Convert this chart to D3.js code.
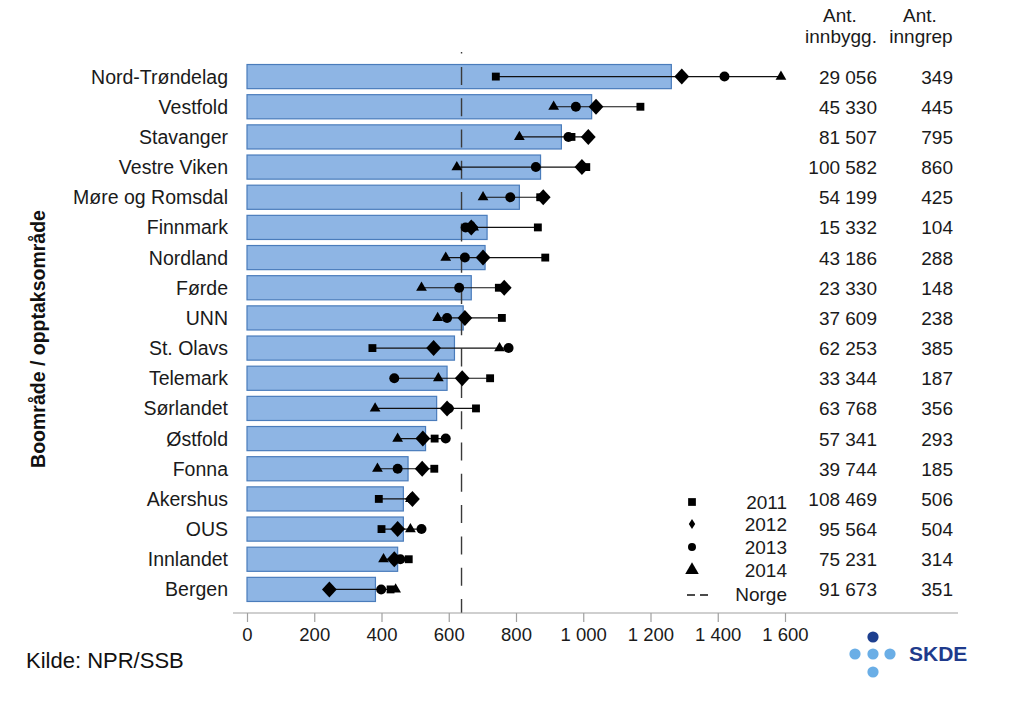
<!DOCTYPE html>
<html>
<head>
<meta charset="utf-8">
<script src="https://cdn.jsdelivr.net/npm/d3@7"></script>
<style>
  html, body { margin: 0; padding: 0; background: #fff; }
  svg { display: block; font-family: "Liberation Sans", Arial, sans-serif; }
</style>
</head>
<body>
<svg id="chart" width="1024" height="703"></svg>
<script>
// ---- data ----
const categories = ["Nord-Trøndelag","Vestfold","Stavanger","Vestre Viken","Møre og Romsdal","Finnmark","Nordland","Førde","UNN","St. Olavs","Telemark","Sørlandet","Østfold","Fonna","Akershus","OUS","Innlandet","Bergen"];
const average = [1262,1025,935,873,810,714,708,667,643,617,595,564,531,479,465,465,448,382];
const y2011 = [740,1170,965,1009,872,865,887,749,758,373,723,681,558,557,392,400,481,427];
const y2012 = [1293,1038,1015,996,881,667,702,765,648,555,640,595,523,521,492,448,438,245];
const y2013 = [1420,978,956,859,783,650,648,631,595,778,438,600,591,448,490,519,456,399];
const y2014 = [1588,912,810,624,702,674,591,519,567,751,569,381,448,388,486,486,406,442];
const innbyggere = [29056,45330,81507,100582,54199,15332,43186,23330,37609,62253,33344,63768,57341,39744,108469,95564,75231,91673];
const inngrep = [349,445,795,860,425,104,288,148,238,385,187,356,293,185,506,504,314,351];
const norge = 638;
const xTicks = [0,200,400,600,800,1000,1200,1400,1600];
const legendLabels = ["2011","2012","2013","2014","Norge"];

// ---- setup ----
const locale = d3.formatLocale({decimal: ",", thousands: " ", grouping: [3], currency: ["", ""]});
const fmt = locale.format(",d");
const svg = d3.select("#chart");
const font = '"Liberation Sans", Arial, sans-serif';

const x = d3.scaleLinear().domain([0, 1600]).range([247, 785]);
const y = d3.scaleBand().domain(categories).range([61.5, 604.5]).paddingInner(0.2).paddingOuter(0.1);
const cy = c => y(c) + y.bandwidth() / 2;

const rows = categories.map((c, i) => ({
  cat: c, avg: average[i], vals: [y2011[i], y2012[i], y2013[i], y2014[i]],
  inn: innbyggere[i], ing: inngrep[i]
}));

// ---- bars ----
svg.append("g").selectAll("rect").data(rows).join("rect")
  .attr("x", x(0))
  .attr("y", d => y(d.cat))
  .attr("width", d => x(d.avg) - x(0))
  .attr("height", y.bandwidth())
  .attr("fill", "#8eb5e4")
  .attr("stroke", "#4a7cbb")
  .attr("stroke-width", 1.2);

// ---- Norge dashed line ----
svg.append("line")
  .attr("x1", x(norge)).attr("x2", x(norge))
  .attr("y1", 52).attr("y2", 613)
  .attr("stroke", "#3a3a3a").attr("stroke-width", 1.4)
  .attr("stroke-dasharray", "18,13.3")
  .attr("stroke-dashoffset", 16.4);

// ---- range lines ----
svg.append("g").selectAll("line").data(rows).join("line")
  .attr("x1", d => x(d3.min(d.vals)))
  .attr("x2", d => x(d3.max(d.vals)))
  .attr("y1", d => cy(d.cat)).attr("y2", d => cy(d.cat))
  .attr("stroke", "#111").attr("stroke-width", 1.1);

// ---- markers ----
const shapes = [
  d3.symbol().type(d3.symbolSquare).size(62)(),
  "M0,-8L7.4,0L0,8L-7.4,0Z",
  d3.symbol().type(d3.symbolCircle).size(78)(),
  d3.symbol().type(d3.symbolTriangle).size(50)()
];
const drawOrder = [0, 2, 3, 1];
drawOrder.forEach(s => {
  svg.append("g").selectAll("path").data(rows).join("path")
    .attr("d", shapes[s])
    .attr("transform", d => `translate(${x(d.vals[s])},${cy(d.cat)})`)
    .attr("fill", "#000");
});

// ---- category labels ----
svg.append("g").selectAll("text").data(rows).join("text")
  .attr("x", 228)
  .attr("y", d => cy(d.cat) + 7)
  .attr("text-anchor", "end")
  .attr("font-size", 19.5)
  .attr("fill", "#1a1a1a")
  .text(d => d.cat);

// ---- right columns ----
const colText = (xx, yy, t, anchor) => svg.append("text")
  .attr("x", xx).attr("y", yy).attr("text-anchor", anchor)
  .attr("font-size", 19).attr("fill", "#1a1a1a").text(t);
colText(840, 22, "Ant.", "middle");
colText(841, 43, "innbygg.", "middle");
colText(920, 22, "Ant.", "middle");
colText(921, 43, "inngrep", "middle");

svg.append("g").selectAll("text").data(rows).join("text")
  .attr("x", 877).attr("y", d => cy(d.cat) + 7)
  .attr("text-anchor", "end").attr("font-size", 19).attr("fill", "#1a1a1a")
  .text(d => fmt(d.inn));
svg.append("g").selectAll("text").data(rows).join("text")
  .attr("x", 953).attr("y", d => cy(d.cat) + 7)
  .attr("text-anchor", "end").attr("font-size", 19).attr("fill", "#1a1a1a")
  .text(d => fmt(d.ing));

// ---- x axis ----
const axisY = 613;
svg.append("line").attr("x1", 233).attr("x2", 958).attr("y1", axisY).attr("y2", axisY)
  .attr("stroke", "#a0a0a0").attr("stroke-width", 1.2);
const ax = svg.append("g").attr("transform", `translate(0,${axisY})`)
  .call(d3.axisBottom(x).tickValues(xTicks).tickSize(9).tickPadding(6).tickFormat(d => fmt(d)));
ax.select(".domain").remove();
ax.selectAll(".tick line").attr("stroke", "#a0a0a0").attr("stroke-width", 1.2);
ax.selectAll(".tick text").attr("font-size", 18.5).attr("font-family", font).attr("fill", "#1a1a1a");

// ---- y axis title ----
svg.append("text")
  .attr("transform", "translate(45,339) rotate(-90)")
  .attr("text-anchor", "middle")
  .attr("font-size", 19.5).attr("font-weight", "bold").attr("fill", "#111")
  .text("Boområde / opptaksområde");

// ---- legend ----
const legY = [502, 524, 547, 570, 594];
const leg = svg.append("g");
const legShapes = [
  d3.symbol().type(d3.symbolSquare).size(60)(),
  "M0,-5L3.2,0L0,5L-3.2,0Z",
  d3.symbol().type(d3.symbolCircle).size(50)(),
  d3.symbol().type(d3.symbolTriangle).size(80)()
];
legShapes.forEach((p, i) => {
  leg.append("path").attr("d", p).attr("transform", `translate(692,${legY[i]})`).attr("fill", "#000");
});
leg.append("line").attr("x1", 687).attr("x2", 708).attr("y1", legY[4] + 1).attr("y2", legY[4] + 1)
  .attr("stroke", "#111").attr("stroke-width", 1.3).attr("stroke-dasharray", "8,5");
legendLabels.forEach((t, i) => {
  leg.append("text").attr("x", 787).attr("y", legY[i] + 7).attr("text-anchor", "end")
    .attr("font-size", 19).attr("fill", "#1a1a1a").text(t);
});

// ---- source ----
svg.append("text").attr("x", 26).attr("y", 668).attr("font-size", 22).attr("fill", "#111").text("Kilde: NPR/SSB");

// ---- SKDE logo ----
const logo = svg.append("g");
const dots = [[873, 637, "#1d3f8f"], [855, 654, "#6aaee6"], [873, 654, "#6aaee6"], [890, 654, "#6aaee6"], [873, 672, "#6aaee6"]];
logo.selectAll("circle").data(dots).join("circle")
  .attr("cx", d => d[0]).attr("cy", d => d[1]).attr("r", 5.6).attr("fill", d => d[2]);
logo.append("text").attr("x", 909).attr("y", 661).attr("font-size", 21).attr("font-weight", "bold")
  .attr("fill", "#1f3b8c").text("SKDE");
</script>
</body>
</html>
